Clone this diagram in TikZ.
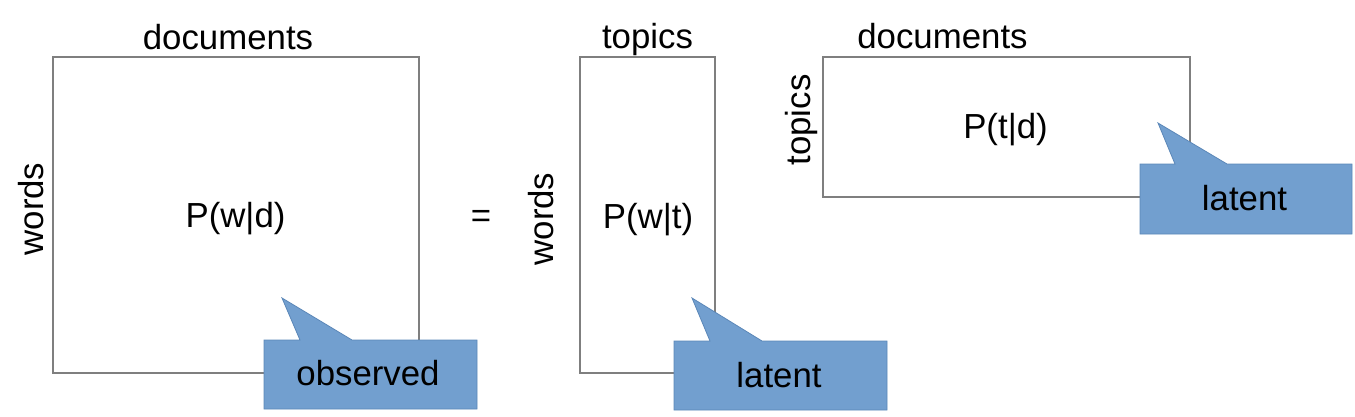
\documentclass[tikz,border=0pt]{standalone}
\usepackage{fontspec}
\setmainfont{Liberation Sans}
\definecolor{framegray}{HTML}{7F7F7F}
\definecolor{callfill}{HTML}{729FCF}
\definecolor{calldraw}{HTML}{5B87B8}
\begin{document}
\begin{tikzpicture}[x=1pt,y=-1pt,
  lbl/.style={inner sep=0pt,anchor=base,font=\fontsize{34.8pt}{40pt}\selectfont},
  vlbl/.style={lbl,rotate=90},
  mat/.style={draw=framegray,line width=1.5pt,inner sep=0pt},
  callshape/.style={fill=callfill,draw=calldraw,line width=0.8pt,line join=miter}]
\useasboundingbox (0,0) rectangle (1355,416);
% matrices
\node[mat,minimum width=366pt,minimum height=316pt] (M1) at (236,215) {};
\node[mat,minimum width=135pt,minimum height=316pt] (M2) at (647.5,215) {};
\node[mat,minimum width=367pt,minimum height=140pt] (M3) at (1006.5,127) {};
% labels
\node[lbl] (d1) at (228,49) {documents};
\node[vlbl] (w1) at (43,209) {words};
\node[lbl] (p1) at (235.5,227) {P(w|d)};
\node[lbl] (eq) at (481,227) {=};
\node[lbl] (t2) at (647.5,48) {topics};
\node[vlbl] (w2) at (553,219) {words};
\node[lbl] (p2) at (648,228) {P(w|t)};
\node[lbl] (d3) at (942.5,48) {documents};
\node[vlbl] (t3) at (810,120) {topics};
\node[lbl] (p3) at (1005.5,138) {P(t|d)};
% callouts
\coordinate (c1tip) at (282,298);
\draw[callshape] (264,340) -- (300,340) -- (c1tip) -- (352,340) -- (477,340) -- (477,409) -- (264,409) -- cycle;
\node[lbl] (obs) at (368,385) {observed};
\coordinate (c2tip) at (692,298);
\draw[callshape] (674,341) -- (710,341) -- (c2tip) -- (762,341) -- (887,341) -- (887,410) -- (674,410) -- cycle;
\node[lbl] (lat2) at (779,387) {latent};
\coordinate (c3tip) at (1158,123);
\draw[callshape] (1140,164) -- (1175,164) -- (c3tip) -- (1227,164) -- (1352,164) -- (1352,234) -- (1140,234) -- cycle;
\node[lbl] (lat3) at (1244.5,210) {latent};
\end{tikzpicture}
\end{document}
